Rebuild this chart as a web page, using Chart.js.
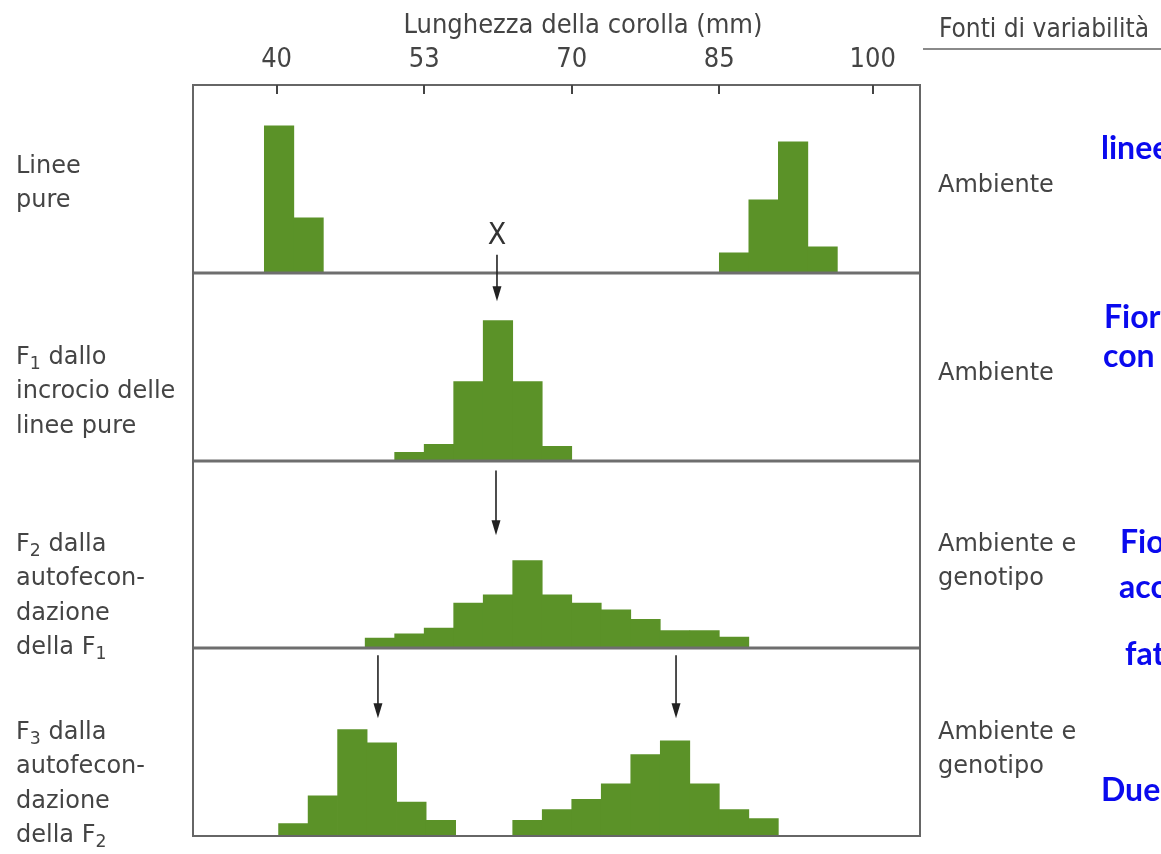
<!DOCTYPE html>
<html><head><meta charset="utf-8">
<script src="https://cdn.jsdelivr.net/npm/chart.js@4.4.1/dist/chart.umd.min.js"></script>
<style>
html,body{margin:0;padding:0;background:#fff;overflow:hidden;width:1161px;height:854px;}
#wrap{position:relative;width:1161px;height:854px;overflow:hidden;}
#c{position:absolute;left:0;top:0;}
.t{position:absolute;white-space:nowrap;color:#444;font-family:"DejaVu Sans",sans-serif;font-size:24px;line-height:34.4px;}
.c{position:absolute;white-space:nowrap;color:#444;font-family:"DejaVu Sans Condensed","DejaVu Sans",sans-serif;font-stretch:condensed;}
.s{font-size:0.72em;position:relative;top:0.3em;line-height:0;}
.b{position:absolute;white-space:nowrap;color:#0a0aee;font-family:Lato,"Open Sans",sans-serif;font-weight:bold;font-size:32px;line-height:41px;}
</style>
</head><body>
<div id="wrap">
<canvas id="c" width="1161" height="854"></canvas>

<div class="c" style="left:583px;top:8px;font-size:27px;line-height:32px;transform:translateX(-50%);">Lunghezza della corolla (mm)</div>
<div class="c" style="left:939px;top:13px;font-size:26px;line-height:30px;">Fonti di variabilità</div>
<div style="position:absolute;left:923px;top:48px;width:238px;height:2px;background:#8a8a8a;"></div>

<div class="t" style="left:16px;top:148px;">Linee<br>pure</div>
<div class="t" style="left:16px;top:339px;">F<span class="s">1</span> dallo<br>incrocio delle<br>linee pure</div>
<div class="t" style="left:16px;top:526px;">F<span class="s">2</span> dalla<br>autofecon-<br>dazione<br>della F<span class="s">1</span></div>
<div class="t" style="left:16px;top:714px;">F<span class="s">3</span> dalla<br>autofecon-<br>dazione<br>della F<span class="s">2</span></div>

<div class="t" style="left:938px;top:167px;">Ambiente</div>
<div class="t" style="left:938px;top:355px;">Ambiente</div>
<div class="t" style="left:938px;top:526px;">Ambiente e<br>genotipo</div>
<div class="t" style="left:938px;top:714px;">Ambiente e<br>genotipo</div>

<div class="b" style="left:1101px;top:126px;">linee pure</div>
<div class="b" style="left:1104px;top:295px;">Fiori di lunghezza intermedia</div>
<div class="b" style="left:1103px;top:334px;">con variabilità ambientale</div>
<div class="b" style="left:1120px;top:520px;">Fiori di lunghezza variabile</div>
<div class="b" style="left:1119px;top:565px;">accoppiamento casuale</div>
<div class="b" style="left:1125px;top:632px;">fattori genetici</div>
<div class="b" style="left:1101px;top:768px;">Due gruppi distinti</div>
</div>

<script>
// ---- data ----
const tickPositions = [40, 55, 70, 85, 100.6];
const tickLabels = ['40', '53', '70', '85', '100'];

// Linee pure (two parental lines)
const pureShortX = [40.25, 43.25];
const pureShortY = [48.9, 18.3];
const pureLongX = [86.5, 89.5, 92.5, 95.5];
const pureLongY = [6.6, 24.3, 43.6, 8.6];

// F1
const f1X = [53.5, 56.5, 59.5, 62.5, 65.5, 68.5];
const f1Y = [2.7, 5.4, 26.3, 46.6, 26.3, 4.7];

// F2
const f2X = [50.5, 53.5, 56.5, 59.5, 62.5, 65.5, 68.5, 71.5, 74.5, 77.5, 80.5, 83.5, 86.5];
const f2Y = [3.4, 4.8, 6.7, 15, 17.8, 29.2, 17.8, 15, 12.8, 9.6, 5.9, 5.9, 3.7];

// F3 (two lines)
const f3ShortX = [41.7, 44.7, 47.7, 50.7, 53.7, 56.7];
const f3ShortY = [4.1, 13.4, 35.4, 31, 11.3, 5.2];
const f3LongX = [65.5, 68.5, 71.5, 74.5, 77.5, 80.5, 83.5, 86.5, 89.5];
const f3LongY = [5.2, 8.8, 12.2, 17.4, 27.1, 31.7, 17.4, 8.8, 5.8];

// means marked by arrows
const meanF1 = 62.4;
const meanF2 = 62.3;
const meansF3 = [50.3, 80.6];

const GREEN = '#5b9228';
const pts = (xs, ys) => xs.map((x, i) => ({x: x, y: ys[i]}));
const ds = (xs, ys, axis) => ({
  data: pts(xs, ys), yAxisID: axis, xAxisID: 'x', stack: 'g',
  backgroundColor: GREEN, borderWidth: 0,
  barThickness: 'flex', barPercentage: 1, categoryPercentage: 1
});

const yPanel = (w) => ({
  type: 'linear', display: false, min: 0, max: 62.5, stacked: false,
  position: 'left', stack: 'panels', stackWeight: 1, weight: w
});

const annotations = [
  {type: 'label', text: 'X', x: meanF1, axis: 'y1', v: 12.3},
  {type: 'arrow', x: meanF1, axis0: 'y1', v0: 6.0, axis1: 'y2', v1: 53},
  {type: 'arrow', x: meanF2, axis0: 'y3', v0: 59.2, axis1: 'y3', v1: 37.6},
  {type: 'arrow', x: meansF3[0], axis0: 'y4', v0: 60.2, axis1: 'y4', v1: 39.2},
  {type: 'arrow', x: meansF3[1], axis0: 'y4', v0: 60.2, axis1: 'y4', v1: 39.2}
];

const framePlugin = {
  id: 'frame',
  afterDatasetsDraw(chart) {
    const {ctx, chartArea: a, scales} = chart;
    const ln = (x0, y0, x1, y1) => { ctx.beginPath(); ctx.moveTo(x0, y0); ctx.lineTo(x1, y1); ctx.stroke(); };
    ctx.save();
    ctx.strokeStyle = '#6e6e6e';
    ctx.lineWidth = 3;
    ['y1', 'y2', 'y3'].forEach(id => { const yb = Math.round(scales[id].bottom); ln(a.left, yb, a.right, yb); });
    ctx.lineWidth = 2;
    ctx.strokeStyle = '#666';
    ctx.strokeRect(a.left, a.top, a.right - a.left, a.bottom - a.top);
    ctx.strokeStyle = '#444';
    tickPositions.forEach(v => { const px = Math.round(scales.x.getPixelForValue(v)); ln(px, a.top, px, a.top + 9); });
    ctx.strokeStyle = '#222';
    ctx.fillStyle = '#222';
    annotations.forEach(an => {
      const px = scales.x.getPixelForValue(an.x);
      if (an.type === 'label') {
        ctx.font = '30px "Liberation Sans Narrow", "DejaVu Sans Condensed", sans-serif';
        ctx.fillStyle = '#333';
        ctx.textAlign = 'center'; ctx.textBaseline = 'middle';
        ctx.fillText(an.text, px, scales[an.axis].getPixelForValue(an.v));
        ctx.fillStyle = '#222';
      } else {
        const y0 = scales[an.axis0].getPixelForValue(an.v0);
        const y1 = scales[an.axis1].getPixelForValue(an.v1);
        ctx.lineWidth = 1.6;
        ln(px, y0, px, y1 - 10);
        ctx.beginPath();
        ctx.moveTo(px - 4.5, y1 - 15);
        ctx.lineTo(px + 4.5, y1 - 15);
        ctx.lineTo(px, y1);
        ctx.closePath();
        ctx.fill();
      }
    });
    ctx.restore();
  }
};

new Chart(document.getElementById('c'), {
  type: 'bar',
  data: {
    datasets: [
      ds(pureShortX, pureShortY, 'y1'),
      ds(pureLongX, pureLongY, 'y1'),
      ds(f1X, f1Y, 'y2'),
      ds(f2X, f2Y, 'y3'),
      ds(f3ShortX, f3ShortY, 'y4'),
      ds(f3LongX, f3LongY, 'y4')
    ]
  },
  options: {
    responsive: false,
    animation: false,
    devicePixelRatio: 1,
    layout: {padding: {left: 193, right: 241, top: 0, bottom: 18}},
    plugins: {legend: {display: false}, tooltip: {enabled: false}},
    scales: {
      x: {
        type: 'linear', position: 'top', min: 31.5, max: 105.4, offset: false,
        grid: {display: false, drawTicks: false, offset: false},
        border: {display: false},
        afterBuildTicks: (s) => { s.ticks = tickPositions.map(v => ({value: v})); },
        afterFit: (s) => { s.height = 85; },
        ticks: {
          padding: 9,
          color: '#444',
          font: {family: '"DejaVu Sans Condensed", "DejaVu Sans", sans-serif', size: 27},
          callback: (v, i) => tickLabels[i]
        }
      },
      y1: yPanel(4),
      y2: yPanel(3),
      y3: yPanel(2),
      y4: yPanel(1)
    }
  },
  plugins: [framePlugin]
});
</script>
</body></html>
